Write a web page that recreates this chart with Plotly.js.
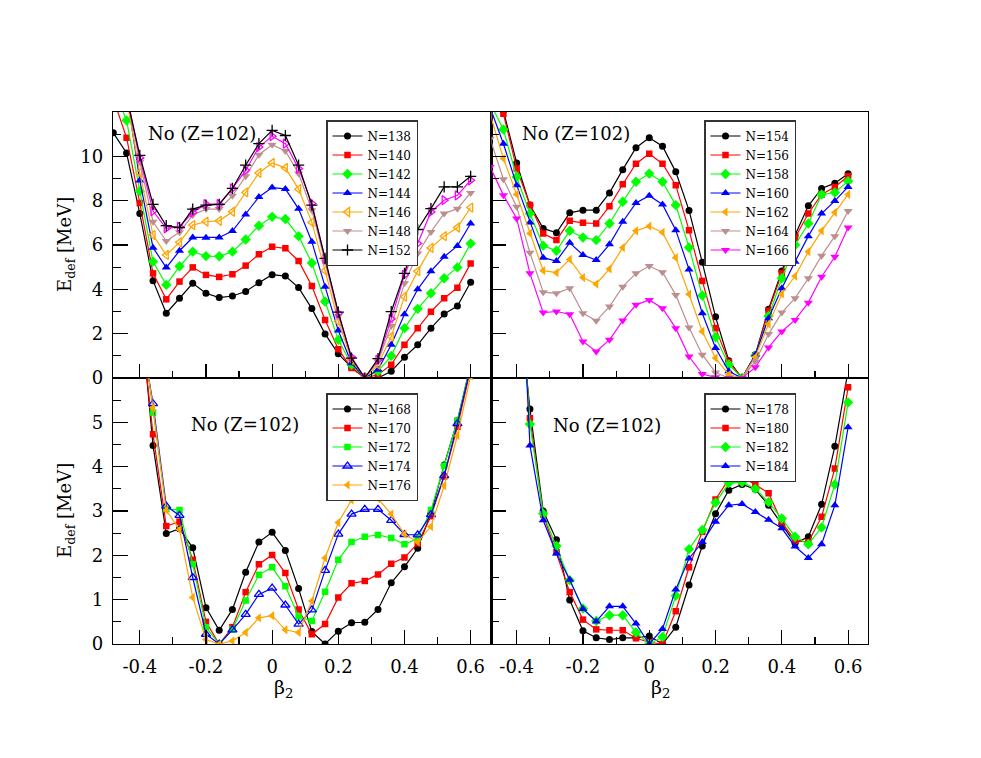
<!DOCTYPE html>
<html>
<head>
<meta charset="utf-8">
<script src="https://cdn.plot.ly/plotly-3.0.1.min.js"></script>
<style>
  html, body { margin: 0; padding: 0; background: #ffffff; }
  #chart { width: 981px; height: 758px; }
</style>
</head>
<body>
<div id="chart"></div>
<script>
// Deformation parameter grid (beta_2)
const beta = [-0.48, -0.44, -0.40, -0.36, -0.32, -0.28, -0.24, -0.20, -0.16, -0.12, -0.08, -0.04, 0.00,
              0.04, 0.08, 0.12, 0.16, 0.20, 0.24, 0.28, 0.32, 0.36, 0.40, 0.44, 0.48, 0.52, 0.56, 0.60];

// Top-left panel: N = 138 ... 152
const n138 = [11.06, 10.15, 7.42, 4.39, 2.92, 3.60, 4.27, 3.82, 3.63, 3.70, 3.90, 4.30, 4.66, 4.60, 4.08, 3.13, 1.99, 1.09, 0.48, 0.02, 0.00, 0.30, 0.94, 1.50, 2.25, 2.89, 3.25, 4.32];
const n140 = [12.6, 10.84, 7.90, 4.72, 3.55, 4.35, 4.99, 4.65, 4.56, 4.68, 5.07, 5.58, 5.92, 5.85, 5.28, 4.15, 2.62, 1.30, 0.45, 0.00, 0.15, 0.60, 1.50, 2.25, 2.99, 3.60, 4.07, 5.17];
const n142 = [13.1, 11.62, 8.43, 5.25, 4.20, 5.04, 5.70, 5.50, 5.49, 5.70, 6.25, 6.87, 7.27, 7.17, 6.40, 5.19, 3.45, 1.72, 0.60, 0.00, 0.30, 1.00, 2.25, 3.12, 3.82, 4.50, 4.99, 6.07];
const n144 = [15.0, 12.9, 8.91, 5.88, 4.98, 5.74, 6.34, 6.33, 6.34, 6.63, 7.38, 8.17, 8.59, 8.53, 7.63, 6.15, 4.12, 2.14, 0.67, 0.00, 0.37, 1.50, 2.88, 4.00, 4.82, 5.47, 5.96, 6.97];
const n146 = [15.0, 12.6, 9.25, 6.45, 5.55, 6.12, 6.90, 7.05, 7.09, 7.50, 8.37, 9.25, 9.70, 9.48, 8.52, 7.02, 4.84, 2.55, 0.82, 0.00, 0.60, 1.87, 3.67, 4.82, 5.87, 6.40, 6.79, 7.69];
const n148 = [15.0, 12.8, 9.75, 7.05, 6.18, 6.57, 7.35, 7.62, 7.62, 8.22, 9.10, 10.07, 10.52, 10.24, 9.22, 7.57, 5.25, 2.80, 0.90, 0.00, 0.75, 2.35, 4.27, 5.62, 6.59, 7.42, 7.64, 8.35];
const n150 = [15.0, 12.8, 9.93, 7.53, 6.75, 6.82, 7.47, 7.84, 7.84, 8.55, 9.37, 10.42, 10.91, 10.57, 9.45, 7.87, 5.37, 2.92, 0.94, 0.00, 0.82, 2.67, 4.65, 6.07, 7.49, 8.02, 8.24, 8.92];
const n152 = [15.0, 12.7, 10.04, 7.83, 6.87, 6.79, 7.62, 7.80, 7.83, 8.55, 9.60, 10.57, 11.17, 10.94, 9.60, 7.80, 5.40, 2.97, 0.90, 0.00, 0.87, 2.99, 4.72, 6.70, 7.64, 8.62, 8.62, 9.10];

// Top-right panel: N = 154 ... 166
const n154 = [14.0, 12.05, 9.70, 7.80, 6.75, 6.55, 7.45, 7.57, 7.57, 8.35, 9.40, 10.39, 10.84, 10.46, 9.30, 7.56, 5.22, 2.76, 0.78, 0.00, 1.05, 3.10, 4.83, 6.45, 7.77, 8.55, 8.79, 9.21];
const n156 = [13.5, 11.92, 9.45, 7.80, 6.52, 6.22, 7.09, 7.00, 6.97, 7.75, 8.74, 9.67, 10.12, 9.67, 8.70, 6.67, 4.38, 2.25, 0.72, 0.00, 1.02, 3.03, 4.72, 6.33, 7.42, 8.28, 8.62, 9.10];
const n158 = [12.4, 11.21, 9.07, 7.42, 5.97, 5.74, 6.64, 6.34, 6.22, 6.97, 7.95, 8.85, 9.22, 8.85, 7.80, 5.89, 3.72, 1.84, 0.60, 0.00, 1.02, 2.80, 4.50, 6.00, 6.97, 8.28, 8.37, 8.88];
const n160 = [12.2, 10.57, 8.70, 7.02, 5.43, 5.28, 6.10, 5.55, 5.32, 6.03, 7.05, 7.90, 8.22, 7.83, 6.67, 4.90, 2.92, 1.35, 0.30, 0.00, 1.05, 2.70, 4.05, 5.25, 6.40, 7.42, 7.99, 8.62];
const n162 = [11.9, 9.90, 8.28, 6.52, 4.84, 4.75, 5.35, 4.53, 4.24, 4.92, 5.88, 6.64, 6.85, 6.57, 5.43, 3.78, 2.10, 0.90, 0.15, 0.00, 0.95, 2.43, 3.79, 4.60, 5.70, 6.64, 7.47, 8.28];
const n164 = [10.79, 8.97, 7.72, 5.65, 3.87, 3.82, 4.05, 2.92, 2.58, 3.22, 4.12, 4.72, 5.05, 4.77, 3.75, 2.28, 1.05, 0.25, 0.00, 0.00, 0.75, 1.98, 2.95, 3.60, 4.50, 5.52, 6.40, 7.53];
const n166 = [9.52, 8.25, 7.20, 4.72, 2.95, 3.00, 2.88, 1.65, 1.20, 1.72, 2.59, 3.30, 3.52, 3.15, 2.25, 0.97, 0.18, 0.03, 0.00, 0.00, 0.48, 1.38, 2.10, 2.62, 3.40, 4.57, 5.47, 6.79];

// Bottom-left panel: N = 168 ... 176
const n168 = [null, null, 7.7, 4.48, 2.49, 2.60, 2.17, 0.82, 0.31, 0.78, 1.62, 2.30, 2.52, 2.11, 1.25, 0.28, 0.00, 0.29, 0.48, 0.49, 0.78, 1.38, 1.74, 2.16, 2.95, 4.04, 5.04, 6.30];
const n170 = [null, null, 7.5, 4.73, 2.66, 2.76, 1.90, 0.50, 0.00, 0.38, 1.17, 1.80, 2.01, 1.60, 0.78, 0.22, 0.45, 1.05, 1.37, 1.42, 1.57, 1.81, 1.95, 2.27, 2.88, 3.78, 4.90, 6.20];
const n172 = [null, null, 7.5, 5.22, 3.05, 3.02, 1.80, 0.38, 0.00, 0.33, 0.98, 1.56, 1.73, 1.30, 0.62, 0.52, 1.18, 1.90, 2.30, 2.42, 2.46, 2.39, 2.25, 2.38, 3.02, 4.02, 5.04, 6.30];
const n174 = [null, null, 7.2, 5.42, 3.11, 2.90, 1.50, 0.22, 0.00, 0.32, 0.67, 1.12, 1.26, 0.88, 0.45, 0.77, 1.66, 2.48, 2.93, 3.04, 3.04, 2.79, 2.47, 2.46, 2.92, 3.80, 4.97, 6.25];
const n176 = [null, null, 7.4, 5.33, 3.02, 2.58, 1.05, 0.10, 0.00, 0.07, 0.26, 0.59, 0.64, 0.32, 0.26, 0.97, 1.94, 2.74, 3.25, 3.36, 3.28, 2.93, 2.48, 2.30, 2.65, 3.57, 4.70, 6.05];

// Bottom-right panel: N = 178 ... 184
const n178 = [null, null, 8.2, 5.30, 3.00, 2.35, 0.99, 0.30, 0.14, 0.10, 0.14, 0.14, 0.18, 0.00, 0.38, 1.33, 2.21, 2.94, 3.47, 3.60, 3.49, 3.13, 2.70, 2.27, 2.42, 3.15, 4.46, 6.17];
const n180 = [null, null, 9.0, 5.09, 2.92, 2.07, 1.17, 0.55, 0.33, 0.31, 0.31, 0.13, 0.04, 0.00, 0.74, 1.73, 2.53, 3.26, 3.72, 3.76, 3.60, 3.40, 2.75, 2.33, 2.30, 2.87, 3.96, 5.79];
const n182 = [null, null, 9.5, 4.96, 2.94, 2.21, 1.44, 0.80, 0.52, 0.65, 0.65, 0.26, 0.00, 0.16, 1.09, 2.14, 2.57, 3.19, 3.63, 3.65, 3.50, 3.20, 2.83, 2.42, 2.25, 2.63, 3.60, 5.45];
const n184 = [null, null, 10.8, 4.48, 2.79, 2.04, 1.45, 0.79, 0.51, 0.85, 0.85, 0.46, 0.00, 0.34, 1.23, 1.93, 2.30, 2.76, 3.13, 3.16, 2.98, 2.80, 2.61, 2.20, 1.94, 2.25, 3.13, 4.89];

// Tick labels
const xTickVals = [-0.4, -0.2, 0, 0.2, 0.4, 0.6];
const xTickText = ["-0.4", "-0.2", "0", "0.2", "0.4", "0.6"];
const xMinorVals = [-0.3, -0.1, 0.1, 0.3, 0.5];
const yTopVals = [0, 2, 4, 6, 8, 10];
const yTopMinor = [1, 3, 5, 7, 9, 11];
const yBotVals = [0, 1, 2, 3, 4, 5];
const yBotMinor = [0.5, 1.5, 2.5, 3.5, 4.5, 5.5];

const SERIF = "DejaVu Serif";
const C = {black: "#000000", red: "#ff0000", green: "#00ff00", blue: "#0000ff",
           orange: "#ffa500", brown: "#bc8f8f", magenta: "#ff00ff"};

function tr(y, name, color, symbol, size, xa, ya, leg, showleg) {
  const open = symbol.indexOf("open") >= 0 || symbol === "cross-thin";
  return {
    x: beta, y: y, name: name, type: "scatter", mode: "lines+markers",
    xaxis: xa, yaxis: ya, legend: leg, showlegend: showleg !== false,
    line: {color: color, width: 1.2},
    marker: {symbol: symbol, size: size, color: color,
             line: {color: color, width: open ? 1.3 : 0}},
    connectgaps: false, cliponaxis: true
  };
}

const data = [
  tr(n138, "N=138", C.black, "circle", 7, "x", "y", "legend"),
  tr(n140, "N=140", C.red, "square", 6.5, "x", "y", "legend"),
  tr(n142, "N=142", C.green, "diamond", 8, "x", "y", "legend"),
  tr(n144, "N=144", C.blue, "triangle-up", 8, "x", "y", "legend"),
  tr(n146, "N=146", C.orange, "triangle-left-open", 8, "x", "y", "legend"),
  tr(n148, "N=148", C.brown, "triangle-down", 8, "x", "y", "legend"),
  tr(n150, "N=150", C.magenta, "triangle-right-open", 8, "x", "y", "legend", false),
  tr(n152, "N=152", C.black, "cross-thin", 8, "x", "y", "legend"),

  tr(n154, "N=154", C.black, "circle", 7, "x2", "y2", "legend2"),
  tr(n156, "N=156", C.red, "square", 6.5, "x2", "y2", "legend2"),
  tr(n158, "N=158", C.green, "diamond", 8, "x2", "y2", "legend2"),
  tr(n160, "N=160", C.blue, "triangle-up", 8, "x2", "y2", "legend2"),
  tr(n162, "N=162", C.orange, "triangle-left", 8, "x2", "y2", "legend2"),
  tr(n164, "N=164", C.brown, "triangle-down", 8, "x2", "y2", "legend2"),
  tr(n166, "N=166", C.magenta, "triangle-down", 8, "x2", "y2", "legend2"),

  tr(n168, "N=168", C.black, "circle", 7, "x3", "y3", "legend3"),
  tr(n170, "N=170", C.red, "square", 6.5, "x3", "y3", "legend3"),
  tr(n172, "N=172", C.green, "square", 6.5, "x3", "y3", "legend3"),
  tr(n174, "N=174", C.blue, "triangle-up-open", 8, "x3", "y3", "legend3"),
  tr(n176, "N=176", C.orange, "triangle-left", 8, "x3", "y3", "legend3"),

  tr(n178, "N=178", C.black, "circle", 7, "x4", "y4", "legend4"),
  tr(n180, "N=180", C.red, "square", 6.5, "x4", "y4", "legend4"),
  tr(n182, "N=182", C.green, "diamond", 8, "x4", "y4", "legend4"),
  tr(n184, "N=184", C.blue, "triangle-up", 8, "x4", "y4", "legend4")
];

const SPLIT = 0.5013;
function xAxis(domain, anchor, range, labels) {
  return {
    domain: domain, anchor: anchor, range: range, type: "linear",
    showgrid: false, zeroline: false,
    showline: true, mirror: true, linecolor: "#000", linewidth: 1.3,
    tickmode: "array", tickvals: xTickVals, ticktext: xTickText,
    ticks: "inside", ticklen: 14, tickwidth: 1.2, tickcolor: "#000",
    minor: {tickmode: "array", tickvals: xMinorVals, ticks: "inside", ticklen: 7, tickwidth: 1.2, tickcolor: "#000", showgrid: false},
    showticklabels: labels, ticklabelstandoff: 6,
    tickfont: {family: SERIF, size: 18, color: "#000"}
  };
}
function yAxis(domain, anchor, range, vals, minor, labels) {
  return {
    domain: domain, anchor: anchor, range: range, type: "linear",
    showgrid: false, zeroline: false,
    showline: true, mirror: true, linecolor: "#000", linewidth: 1.3,
    tickmode: "array", tickvals: vals,
    ticks: "inside", ticklen: 15, tickwidth: 1.2, tickcolor: "#000",
    minor: {tickmode: "array", tickvals: minor, ticks: "inside", ticklen: 8, tickwidth: 1.2, tickcolor: "#000", showgrid: false},
    showticklabels: labels, ticklabelstandoff: 5,
    tickfont: {family: SERIF, size: 18, color: "#000"}
  };
}

function legendBox(x, y) {
  return {
    x: x, y: y, xanchor: "left", yanchor: "top",
    bgcolor: "#ffffff", bordercolor: "#333333", borderwidth: 1.5,
    font: {family: SERIF, size: 12, color: "#000"},
    itemwidth: 30, tracegroupgap: 0, traceorder: "normal"
  };
}

function px(xp) { return (xp - 113) / 755; }
function py(yp) { return (644 - yp) / 532; }

function label(text, x, y, size, angle) {
  return {text: text, xref: "paper", yref: "paper", x: px(x), y: py(y),
          xanchor: "center", yanchor: "middle", showarrow: false,
          textangle: angle || 0,
          font: {family: SERIF, size: size, color: "#000"}};
}

const layout = {
  width: 981, height: 758,
  margin: {l: 113, r: 113, t: 112, b: 114},
  paper_bgcolor: "#ffffff", plot_bgcolor: "#ffffff",
  showlegend: true,
  font: {family: SERIF, color: "#000"},
  xaxis:  xAxis([0, SPLIT], "y", [-0.481, 0.663], false),
  yaxis:  yAxis([0.5, 1], "x", [0, 12], yTopVals, yTopMinor, true),
  xaxis2: xAxis([SPLIT, 1], "y2", [-0.476, 0.660], false),
  yaxis2: yAxis([0.5, 1], "x2", [0, 12], yTopVals, yTopMinor, false),
  xaxis3: xAxis([0, SPLIT], "y3", [-0.481, 0.663], true),
  yaxis3: yAxis([0, 0.5], "x3", [0, 6], yBotVals, yBotMinor, true),
  xaxis4: xAxis([SPLIT, 1], "y4", [-0.476, 0.660], true),
  yaxis4: yAxis([0, 0.5], "x4", [0, 6], yBotVals, yBotMinor, false),
  legend:  legendBox(px(326), py(120)),
  legend2: legendBox(px(704), py(120)),
  legend3: legendBox(px(326), py(393)),
  legend4: legendBox(px(704), py(393)),
  annotations: [
    label("No (Z=102)", 202, 133, 18),
    label("No (Z=102)", 576, 133, 18),
    label("No (Z=102)", 245, 424, 18),
    label("No (Z=102)", 607, 425, 18),
    label("E<sub>def</sub> [MeV]", 66, 245, 18, -90),
    label("E<sub>def</sub> [MeV]", 66, 511, 18, -90),
    label("β<sub>2</sub>", 283, 688, 19),
    label("β<sub>2</sub>", 660, 688, 19)
  ]
};

Plotly.newPlot("chart", data, layout, {displayModeBar: false, staticPlot: true});
</script>
</body>
</html>
